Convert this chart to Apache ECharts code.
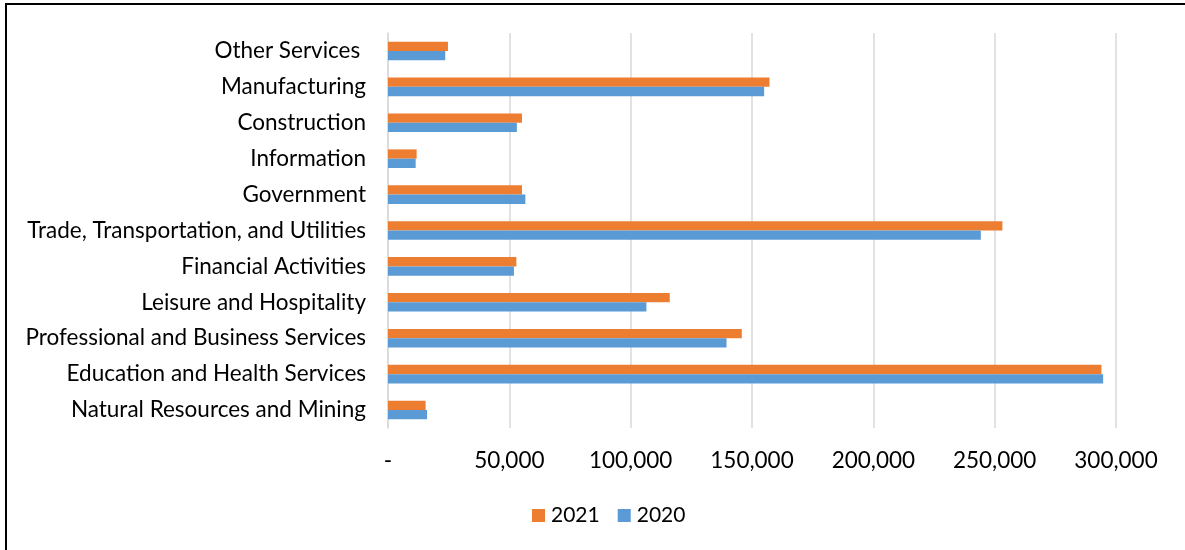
<!DOCTYPE html>
<html>
<head>
<meta charset="utf-8">
<script src="https://cdn.jsdelivr.net/npm/echarts@6/dist/echarts.min.js"></script>
<style>
  html, body { margin: 0; padding: 0; background: #fff; }
  #chart { width: 1185px; height: 550px; position: absolute; left: 0; top: 0; }
  #frame { position: absolute; left: 5px; top: 3px; right: 0; bottom: 0; border-top: 2.5px solid #000; border-left: 2.5px solid #000; pointer-events: none; }
</style>
</head>
<body>
<div id="chart"></div>
<div id="frame"></div>
<script>
const categories = [
  'Natural Resources and Mining',
  'Education and Health Services',
  'Professional and Business Services',
  'Leisure and Hospitality',
  'Financial Activities',
  'Trade, Transportation, and Utilities',
  'Government',
  'Information',
  'Construction',
  'Manufacturing',
  'Other Services '
];
const values2021 = [15500, 294000, 145800, 116100, 52900, 253200, 55200, 11800, 55200, 157200, 24700];
const values2020 = [16100, 294700, 139500, 106500, 51900, 244300, 56600, 11400, 53100, 155000, 23600];
const xTicks = { min: 0, max: 300000, interval: 50000 };

const FONT = 'Lato';
const chart = echarts.init(document.getElementById('chart'));
chart.setOption({
  backgroundColor: '#fff',
  animation: false,
  textStyle: { fontFamily: FONT },
  legend: {
    data: ['2021', '2020'],
    left: 527,
    top: 500,
    itemWidth: 13,
    itemHeight: 13,
    itemGap: 18,
    icon: 'rect',
    textStyle: { fontFamily: FONT, fontSize: 21, color: '#000', padding: [0, 0, 0, 1] }
  },
  grid: { left: 388, right: 69, top: 33, bottom: 122, containLabel: false },
  xAxis: {
    type: 'value',
    min: xTicks.min,
    max: xTicks.max,
    interval: xTicks.interval,
    axisLine: { show: false },
    axisTick: { show: false },
    splitLine: { lineStyle: { color: '#d9d9d9', width: 1.5 } },
    axisLabel: {
      margin: 21,
      fontFamily: FONT,
      fontSize: 22.5,
      color: '#000',
      formatter: v => v === 0 ? '-' : v.toLocaleString('en-US')
    }
  },
  yAxis: {
    type: 'category',
    data: categories,
    axisLine: { show: true, lineStyle: { color: '#d9d9d9', width: 1.5 } },
    axisTick: { show: false },
    axisLabel: { margin: 22, fontFamily: FONT, fontSize: 22.5, color: '#000' }
  },
  series: [
    {
      name: '2021', type: 'bar', data: values2021,
      barWidth: 9.3, barGap: '0%',
      itemStyle: { color: '#ED7D31' }
    },
    {
      name: '2020', type: 'bar', data: values2020,
      barWidth: 9.3, barGap: '0%',
      itemStyle: { color: '#5B9BD5' }
    }
  ]
});
</script>
</body>
</html>
